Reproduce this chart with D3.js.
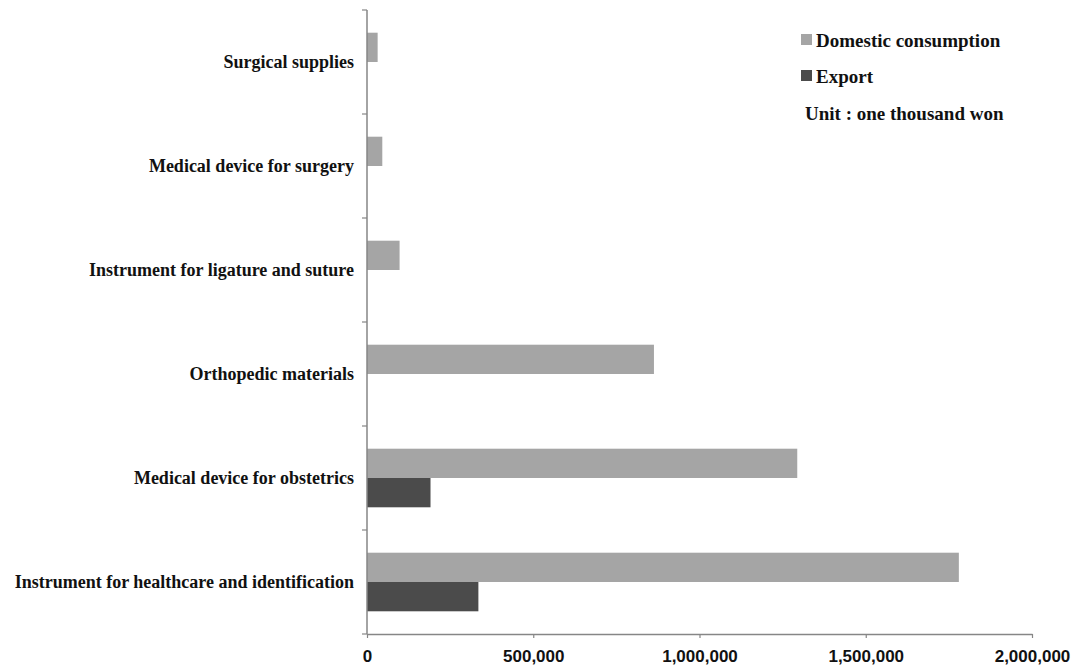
<!DOCTYPE html>
<html>
<head>
<meta charset="utf-8">
<script src="https://cdn.jsdelivr.net/npm/d3@7/dist/d3.min.js"></script>
<style>
  html, body { margin: 0; padding: 0; background: #fff; }
  svg { display: block; }
</style>
</head>
<body>
<script>
// Categories, top to bottom
const categories = [
  "Surgical supplies",
  "Medical device for surgery",
  "Instrument for ligature and suture",
  "Orthopedic materials",
  "Medical device for obstetrics",
  "Instrument for healthcare and identification"
];
// Values in thousand won
const domestic = [32000, 46000, 98000, 863000, 1294000, 1780000];
const exportVals = [0, 0, 0, 0, 191000, 335000];
const seriesNames = ["Domestic consumption", "Export"];
const xTicks = [0, 500000, 1000000, 1500000, 2000000];

(function () {
  const W = 1074, H = 668;
  const plotLeft = 367, plotRight = 1032, plotTop = 10, plotBottom = 634;
  const colors = { "Domestic consumption": "#a5a5a5", "Export": "#4b4b4b" };
  const axisColor = "#868686";
  const serif = "'Liberation Serif', 'Times New Roman', serif";
  const sans = "'Liberation Sans', Arial, sans-serif";

  const svg = d3.select("body").append("svg").attr("width", W).attr("height", H);
  svg.append("rect").attr("width", W).attr("height", H).attr("fill", "#fff");

  const x = d3.scaleLinear().domain([0, 2000000]).range([plotLeft, plotRight]);
  const y = d3.scaleBand().domain(categories).range([plotTop, plotBottom]).padding(0);
  const inner = d3.scaleBand().domain(seriesNames).range([0, y.bandwidth()])
    .paddingInner(0).paddingOuter(0.775);

  const rows = categories.map((c, i) => ({ cat: c, vals: [
    { s: seriesNames[0], v: domestic[i] },
    { s: seriesNames[1], v: exportVals[i] }
  ]}));

  // Bars
  svg.append("g").selectAll("g.row").data(rows).join("g")
    .attr("class", "row")
    .attr("transform", d => `translate(0,${y(d.cat)})`)
    .selectAll("rect").data(d => d.vals.filter(e => e.v > 0)).join("rect")
    .attr("x", x(0))
    .attr("y", d => inner(d.s))
    .attr("width", d => x(d.v) - x(0))
    .attr("height", inner.bandwidth())
    .attr("fill", d => colors[d.s]);

  // Y axis line and ticks at category boundaries
  const yEdges = categories.map(c => y(c)).concat([y.range()[1]]);
  svg.append("line").attr("x1", plotLeft).attr("x2", plotLeft).attr("y1", plotTop).attr("y2", plotBottom)
    .attr("stroke", axisColor).attr("stroke-width", 1.5);
  svg.selectAll("line.ytick").data(yEdges).join("line").attr("class", "ytick")
    .attr("x1", plotLeft - 5).attr("x2", plotLeft).attr("y1", d => d).attr("y2", d => d)
    .attr("stroke", axisColor).attr("stroke-width", 1.2);

  // X axis
  const xAxis = d3.axisBottom(x).tickValues(xTicks).tickSize(4).tickSizeOuter(0)
    .tickFormat(d3.format(","));
  const xg = svg.append("g").attr("transform", `translate(0,${plotBottom})`).call(xAxis);
  xg.select(".domain").attr("stroke", axisColor).attr("stroke-width", 1.5);
  xg.selectAll(".tick line").attr("stroke", axisColor).attr("stroke-width", 1.2);
  xg.selectAll(".tick text").attr("y", 16).attr("dy", "0.71em")
    .attr("font-family", sans).attr("font-weight", "bold").attr("font-size", 17).attr("fill", "#111");

  // Category labels
  svg.selectAll("text.cat").data(categories).join("text").attr("class", "cat")
    .attr("x", 354)
    .attr("y", d => y(d) + y.bandwidth() / 2 + 6)
    .attr("text-anchor", "end")
    .attr("font-family", serif).attr("font-weight", "bold").attr("font-size", 18)
    .attr("fill", "#111")
    .text(d => d);

  // Legend
  const legend = svg.append("g");
  const legendRows = [{ s: seriesNames[0], y: 47 }, { s: seriesNames[1], y: 83 }];
  legend.selectAll("rect").data(legendRows).join("rect")
    .attr("x", 801).attr("y", d => d.y - 13).attr("width", 11).attr("height", 11)
    .attr("fill", d => colors[d.s]);
  legend.selectAll("text").data(legendRows).join("text")
    .attr("x", 816).attr("y", d => d.y)
    .attr("font-family", serif).attr("font-weight", "bold").attr("font-size", 19)
    .attr("fill", "#111").text(d => d.s);
  legend.append("text").attr("x", 805).attr("y", 120)
    .attr("font-family", serif).attr("font-weight", "bold").attr("font-size", 19)
    .attr("fill", "#111").text("Unit : one thousand won");
})();
</script>
</body>
</html>
